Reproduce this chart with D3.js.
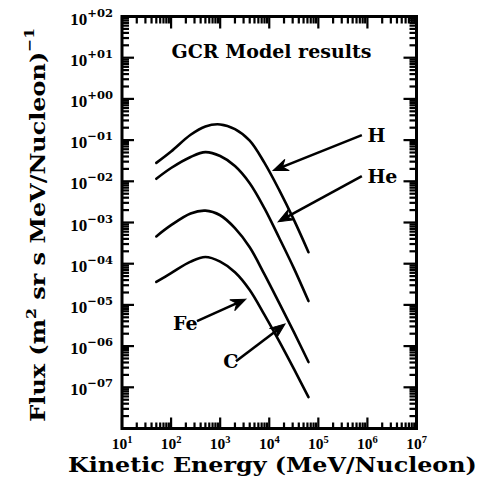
<!DOCTYPE html>
<html><head><meta charset="utf-8">
<script src="https://cdn.jsdelivr.net/npm/d3@7"></script>
<style>
html,body{margin:0;padding:0;background:#fff;}
svg{display:block;}
</style></head>
<body>
<svg id="chart" width="480" height="481"></svg>
<script>
// Kinetic energy grid (MeV/nucleon) shared by every model spectrum
const energy = [50, 100, 250, 500, 1000, 2000, 4000, 8000, 16000, 32000, 63000];
// Model differential flux, (m^2 sr s MeV/nucleon)^-1
const fluxH  = [0.028, 0.053, 0.135, 0.215, 0.24, 0.185, 0.097, 0.028, 0.0061, 0.00114, 0.00019];
const fluxHe = [0.0115, 0.021, 0.039, 0.051, 0.041, 0.0235, 0.009, 0.0022, 0.00042, 7.6e-5, 1.24e-5];
const fluxC  = [4.6e-4, 8.6e-4, 1.66e-3, 1.94e-3, 1.5e-3, 7.3e-4, 2.5e-4, 5.5e-5, 1.1e-5, 2.15e-6, 4.1e-7];
const fluxFe = [3.6e-5, 5.9e-5, 1.12e-4, 1.45e-4, 1.12e-4, 6.2e-5, 2.3e-5, 5.7e-6, 1.3e-6, 2.75e-7, 5.8e-8];

// Species labels, label anchors [energy, flux] and arrow tails / heads
const speciesNames = ["H", "He", "C", "Fe"];
const labelAt   = [[1.0e6, 0.09], [1.0e6, 0.0089], [1150, 2.9e-7], [110, 2.5e-6]];
const arrowFrom = [[7.7e5, 0.132], [7.7e5, 0.0134], [2100, 4.3e-7], [337, 4.05e-6]];
const arrowTo   = [[1.2e4, 0.0182], [1.52e4, 1.04e-3], [2.09e4, 3.42e-6], [3350, 1.38e-5]];

// Axis ticks
const xTickExp = [1, 2, 3, 4, 5, 6, 7];
const xTickLabels = ["1", "2", "3", "4", "5", "6", "7"];
const yTickExp = [2, 1, 0, -1, -2, -3, -4, -5, -6, -7];
const yTickLabels = ["+02", "+01", "+00", "\u221201", "\u221202", "\u221203", "\u221204", "\u221205", "\u221206", "\u221207"];
const chartTitle = "GCR Model results";
const xTitle = "Kinetic Energy (MeV/Nucleon)";

const svg = d3.select("#chart");
const plotL = 122, plotR = 416.5, plotT = 16.5, plotB = 428.5;
const xScale = d3.scaleLog().domain([1e1, 1e7]).range([plotL, plotR]);
const yScale = d3.scaleLog().domain([1e-8, 1e2]).range([plotB, plotT]);

// major / minor tick values for the log axes
const xMajor = [1e1, 1e2, 1e3, 1e4, 1e5, 1e6, 1e7];
const yMajor = [1e-8, 1e-7, 1e-6, 1e-5, 1e-4, 1e-3, 1e-2, 1e-1, 1, 1e1, 1e2];
const xMinor = [];
xMajor.slice(0, -1).forEach(v => { for (let k = 2; k <= 9; k++) xMinor.push(k * v); });
const yMinor = [];
yMajor.slice(0, -1).forEach(v => { for (let k = 2; k <= 9; k++) yMinor.push(k * v); });

// inward tick marks as small filled bars placed with the scales
const tickW = 2.2;
const tickG = svg.append("g").attr("fill", "#000");
function xBars(values, len, yEdge, dir) {
  tickG.append("g").selectAll("rect").data(values).join("rect")
    .attr("x", v => xScale(v) - tickW / 2).attr("width", tickW)
    .attr("y", dir > 0 ? yEdge : yEdge - len).attr("height", len);
}
function yBars(values, len, xEdge, dir) {
  tickG.append("g").selectAll("rect").data(values).join("rect")
    .attr("y", v => yScale(v) - tickW / 2).attr("height", tickW)
    .attr("x", dir > 0 ? xEdge : xEdge - len).attr("width", len);
}
xBars(xMajor, 11, plotB, -1);
xBars(xMinor, 6, plotB, -1);
xBars(xMajor, 12, plotT, 1);
xBars(xMinor, 7, plotT, 1);
yBars(yMajor, 12, plotL, 1);
yBars(yMinor, 7, plotL, 1);
yBars(yMajor, 13, plotR, -1);
yBars(yMinor, 7, plotR, -1);

// frame
svg.append("rect")
  .attr("x", plotL).attr("y", plotT)
  .attr("width", plotR - plotL).attr("height", plotB - plotT)
  .attr("fill", "none").attr("stroke", "#000").attr("stroke-width", 3);

// model spectra
const series = [fluxH, fluxHe, fluxC, fluxFe];
const spectrumLine = d3.line()
  .x((d, i) => xScale(energy[i]))
  .y(d => yScale(d))
  .curve(d3.curveCatmullRom.alpha(0.5));
svg.append("g").selectAll("path").data(series).join("path")
  .attr("d", spectrumLine)
  .attr("fill", "none").attr("stroke", "#000").attr("stroke-width", 2.6)
  .attr("stroke-linecap", "round");

// y tick labels: 10 with signed two-digit exponent
const yl = svg.append("g").selectAll("text").data(yTickExp).join("text")
  .attr("x", 113).attr("y", e => yScale(Math.pow(10, e)) + 8)
  .attr("text-anchor", "end").attr("fill", "#000");
yl.append("tspan").text("10")
  .attr("font-family", "'Liberation Serif', serif").attr("font-weight", "bold").attr("font-size", 17);
yl.append("tspan").text((e, i) => yTickLabels[i]).attr("dy", -8)
  .attr("font-family", "'DejaVu Serif', serif").attr("font-weight", "bold").attr("font-size", 11.5);

// x tick labels
const xl = svg.append("g").selectAll("text").data(xTickExp).join("text")
  .attr("x", e => xScale(Math.pow(10, e))).attr("y", 449)
  .attr("text-anchor", "middle").attr("fill", "#000");
xl.append("tspan").text("10")
  .attr("font-family", "'Liberation Serif', serif").attr("font-weight", "bold").attr("font-size", 15.5);
xl.append("tspan").text((e, i) => xTickLabels[i]).attr("dy", -6)
  .attr("font-family", "'Liberation Serif', serif").attr("font-weight", "bold").attr("font-size", 10.5);

// arrows pointing from species labels to the spectra
const ag = svg.append("g");
speciesNames.forEach((name, i) => {
  const tx = xScale(arrowFrom[i][0]), ty = yScale(arrowFrom[i][1]);
  const hx = xScale(arrowTo[i][0]), hy = yScale(arrowTo[i][1]);
  const ang = Math.atan2(hy - ty, hx - tx);
  const len = Math.hypot(hx - tx, hy - ty);
  const a = ag.append("g")
    .attr("transform", `translate(${tx},${ty}) rotate(${ang * 180 / Math.PI})`);
  a.append("line").attr("x1", 0).attr("y1", 0).attr("x2", len - 8).attr("y2", 0)
    .attr("stroke", "#000").attr("stroke-width", 2.6);
  a.append("path")
    .attr("d", `M${len},0 L${len - 15},-6 L${len - 10},0 L${len - 15},6 Z`)
    .attr("fill", "#000").attr("stroke", "#000").attr("stroke-width", 1).attr("stroke-linejoin", "miter");
  svg.append("text")
    .attr("x", xScale(labelAt[i][0])).attr("y", yScale(labelAt[i][1]))
    .attr("font-family", "'DejaVu Serif', serif").attr("font-weight", "bold")
    .attr("font-size", 19).attr("fill", "#000")
    .text(name);
});

// stretch a text element horizontally so it spans the given width
function fitWidth(textSel, target) {
  const w = textSel.node().getBBox().width;
  textSel.attr("transform", `scale(${target / w},1)`);
}

// chart title
const tg = svg.append("g").attr("transform", "translate(171.5,58.3)");
const tt = tg.append("text").text(chartTitle)
  .attr("font-family", "'DejaVu Serif', serif").attr("font-weight", "bold")
  .attr("font-size", 18).attr("fill", "#000");
fitWidth(tt, 200);

// x axis title
const xg = svg.append("g").attr("transform", "translate(68,472)");
const xt = xg.append("text").text(xTitle)
  .attr("font-family", "'DejaVu Serif', serif").attr("font-weight", "bold")
  .attr("font-size", 20).attr("fill", "#000");
fitWidth(xt, 409);

// y axis title, rotated
const yg = svg.append("g").attr("transform", "translate(44.5,421.7) rotate(-90)");
const yt = yg.append("text").attr("font-family", "'DejaVu Serif', serif")
  .attr("font-weight", "bold").attr("font-size", 20).attr("fill", "#000");
yt.append("tspan").text("Flux (m");
yt.append("tspan").text("2").attr("font-size", 13).attr("dy", -9);
yt.append("tspan").text(" sr s MeV/Nucleon)").attr("dy", 9);
yt.append("tspan").text("\u22121").attr("font-size", 13).attr("dy", -11);
fitWidth(yt, 394);
</script>
</body></html>
